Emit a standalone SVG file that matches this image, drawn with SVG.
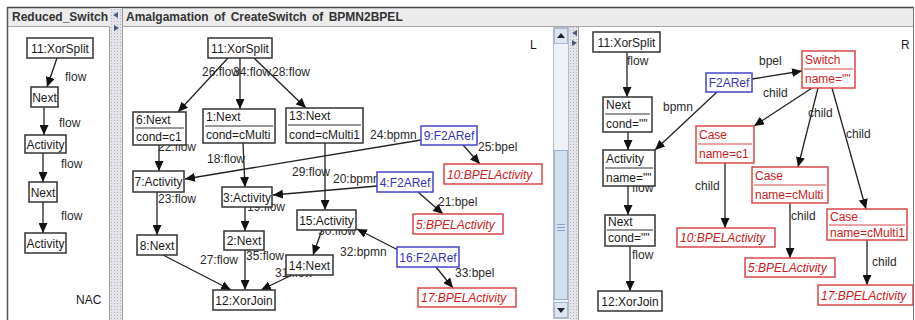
<svg xmlns="http://www.w3.org/2000/svg" width="915" height="320" viewBox="0 0 915 320">
<defs>
<style>
.hdr{font-family:"Liberation Sans",Arial,sans-serif;font-size:12px;font-weight:bold;fill:#333}
.t{font-family:"Liberation Sans",Arial,sans-serif;font-size:12px;fill:#1a1a1a}
.c{text-anchor:middle}
.lb{font-family:"Liberation Sans",Arial,sans-serif;font-size:12px;fill:#2a2a2a}
.k{fill:#fff;stroke:#333;stroke-width:1.5}
.b{fill:#fff;stroke:#4646c8;stroke-width:1.5}
.r{fill:#fff;stroke:#d84848;stroke-width:1.5}
.bt{fill:#3434b8}
.rt{fill:#cc2020;font-style:italic}
.rn{fill:#cc2020}
.sk{stroke:#333;stroke-width:1.2}
.sr{stroke:#d84848;stroke-width:1.2}
.e{stroke:#222;stroke-width:1.3;fill:none;marker-end:url(#ah)}
.sp{fill:url(#dots)}
.tri{fill:#4a5a78}
</style>
<marker id="ah" viewBox="0 0 10 9" refX="10" refY="4.5" markerWidth="10" markerHeight="9" markerUnits="userSpaceOnUse" orient="auto"><path d="M0,0L10,4.5L0,9z" fill="#111"/></marker>
<pattern id="dots" width="3" height="3" patternUnits="userSpaceOnUse"><rect width="3" height="3" fill="#e4e4ea"/><rect width="1" height="1" fill="#b0b0c2"/></pattern>
</defs>

<!-- window frame and panels -->
<g id="frame">
<rect x="0" y="0" width="915" height="320" fill="#fff"/>
<rect x="8" y="8" width="905" height="18" fill="#ececec"/>
<line x1="7" y1="7.5" x2="914" y2="7.5" stroke="#444" stroke-width="1.5"/>
<line x1="8" y1="26.5" x2="913" y2="26.5" stroke="#a8a8a8"/>
<line x1="7.5" y1="7" x2="7.5" y2="320" stroke="#555" stroke-width="1.5"/>
<line x1="913.5" y1="7" x2="913.5" y2="320" stroke="#777"/>
<rect x="110" y="8" width="12" height="312" class="sp"/>
<line x1="109.5" y1="27" x2="109.5" y2="320" stroke="#999"/>
<line x1="122.5" y1="8" x2="122.5" y2="320" stroke="#999"/>
<path d="M118,12L113,15L118,18z" class="tri"/>
<path d="M114,25L119,28L114,31z" class="tri"/>
<text x="12" y="21" class="hdr">Reduced_Switch</text>
<text x="126" y="21" class="hdr" word-spacing="2">Amalgamation of CreateSwitch of BPMN2BPEL</text>
<!-- scrollbar of the middle view -->
<rect x="553.5" y="27.5" width="15" height="291" fill="#eef2f8" stroke="#b4c0d0"/>
<rect x="554.5" y="28.5" width="13" height="15" fill="#dde6f0" stroke="#a8b8cc"/>
<path d="M557,38L561,33L565,38z" fill="#223"/>
<rect x="554.5" y="150.5" width="13" height="149" fill="#d2e0f0" stroke="#9cb0c8"/>
<line x1="557" y1="224.5" x2="565" y2="224.5" stroke="#8aa0bc"/>
<line x1="557" y1="227.5" x2="565" y2="227.5" stroke="#8aa0bc"/>
<line x1="557" y1="230.5" x2="565" y2="230.5" stroke="#8aa0bc"/>
<rect x="554.5" y="302.5" width="13" height="15" fill="#dde6f0" stroke="#a8b8cc"/>
<path d="M557,308L561,313L565,308z" fill="#223"/>
<rect x="569" y="27" width="9" height="293" class="sp"/>
<line x1="578.5" y1="27" x2="578.5" y2="320" stroke="#999"/>
<path d="M577,30L572,33L577,36z" class="tri"/>
<path d="M572,40L577,43L572,46z" class="tri"/>
<text x="76" y="304" class="t">NAC</text>
<text x="530" y="49" class="t">L</text>
<text x="901" y="49" class="t">R</text>
</g>

<!-- connectors -->
<g id="connectors">
<!-- NAC -->
<line x1="57" y1="58" x2="47" y2="87" class="e"/>
<line x1="44" y1="107" x2="44" y2="135" class="e"/>
<line x1="43" y1="153" x2="43" y2="182" class="e"/>
<line x1="43" y1="202" x2="43" y2="233" class="e"/>
<text x="65" y="81" class="lb">flow</text>
<text x="59" y="127" class="lb">flow</text>
<text x="61" y="168" class="lb">flow</text>
<text x="61" y="220" class="lb">flow</text>
<!-- L -->
<line x1="228" y1="58" x2="178" y2="112" class="e"/>
<line x1="240" y1="58" x2="240" y2="109" class="e"/>
<line x1="254" y1="58" x2="306" y2="108" class="e"/>
<text x="202" y="76" class="lb">26:flow</text>
<text x="233" y="76" class="lb">34:flow</text>
<text x="272" y="76" class="lb">28:flow</text>
<line x1="159" y1="145" x2="159" y2="171" class="e"/>
<text x="158" y="151" class="lb">22:flow</text>
<line x1="243" y1="143" x2="245" y2="187" class="e"/>
<text x="207" y="163" class="lb">18:flow</text>
<line x1="325" y1="143" x2="325" y2="210" class="e"/>
<text x="292" y="176" class="lb">29:flow</text>
<line x1="157" y1="192" x2="157" y2="235" class="e"/>
<text x="158" y="203" class="lb">23:flow</text>
<line x1="245" y1="207" x2="245" y2="231" class="e"/>
<text x="247" y="211" class="lb">19:flow</text>
<line x1="322" y1="230" x2="313" y2="255" class="e"/>
<text x="318" y="235" class="lb">30:flow</text>
<line x1="163" y1="255" x2="231" y2="290" class="e"/>
<text x="200" y="264" class="lb">27:flow</text>
<line x1="245" y1="250" x2="245" y2="290" class="e"/>
<text x="246" y="260" class="lb">35:flow</text>
<line x1="292" y1="275" x2="261" y2="290" class="e"/>
<text x="275" y="277" class="lb">31:flow</text>
<line x1="421" y1="140" x2="185" y2="179" class="e"/>
<text x="370" y="139" class="lb">24:bpmn</text>
<line x1="463" y1="145" x2="480" y2="164" class="e"/>
<text x="478" y="151" class="lb">25:bpel</text>
<line x1="377" y1="186" x2="273" y2="195" class="e"/>
<text x="333" y="183" class="lb">20:bpmn</text>
<line x1="418" y1="192" x2="443" y2="214" class="e"/>
<text x="438" y="206" class="lb">21:bpel</text>
<line x1="398" y1="250" x2="357" y2="229" class="e"/>
<text x="340" y="256" class="lb">32:bpmn</text>
<line x1="436" y1="267" x2="453" y2="288" class="e"/>
<text x="455" y="277" class="lb">33:bpel</text>
<!-- R -->
<line x1="627" y1="52" x2="627" y2="97" class="e"/>
<text x="627" y="65" class="lb">flow</text>
<line x1="628" y1="132" x2="628" y2="150" class="e"/>
<line x1="628" y1="186" x2="628" y2="215" class="e"/>
<text x="632" y="192" class="lb">flow</text>
<line x1="630" y1="246" x2="630" y2="291" class="e"/>
<text x="632" y="259" class="lb">flow</text>
<line x1="752" y1="79" x2="802" y2="71" class="e"/>
<text x="759" y="65" class="lb">bpel</text>
<line x1="717" y1="92" x2="655" y2="150" class="e"/>
<text x="663" y="111" class="lb">bpmn</text>
<line x1="812" y1="88" x2="754" y2="126" class="e"/>
<text x="763" y="97" class="lb">child</text>
<line x1="818" y1="88" x2="798" y2="167" class="e"/>
<text x="808" y="117" class="lb">child</text>
<line x1="832" y1="88" x2="866" y2="209" class="e"/>
<text x="846" y="138" class="lb">child</text>
<line x1="725" y1="163" x2="725" y2="228" class="e"/>
<text x="695" y="190" class="lb">child</text>
<line x1="790" y1="203" x2="790" y2="258" class="e"/>
<text x="791" y="220" class="lb">child</text>
<line x1="867" y1="240" x2="867" y2="285" class="e"/>
<text x="872" y="266" class="lb">child</text>
</g>

<!-- NAC nodes -->
<g id="nac-xorsplit"><rect x="27" y="38" width="66" height="20" class="k"/><text x="60" y="53" class="t c">11:XorSplit</text></g>
<g id="nac-next1"><rect x="31" y="87" width="27" height="20" class="k"/><text x="44.5" y="102" class="t c">Next</text></g>
<g id="nac-activity1"><rect x="25" y="135" width="41" height="18" class="k"/><text x="45.5" y="149" class="t c">Activity</text></g>
<g id="nac-next2"><rect x="29" y="182" width="28" height="20" class="k"/><text x="43" y="197" class="t c">Next</text></g>
<g id="nac-activity2"><rect x="25" y="233" width="41" height="20" class="k"/><text x="45.5" y="248" class="t c">Activity</text></g>

<!-- L nodes -->
<g id="l-11"><rect x="208" y="38" width="64" height="20" class="k"/><text x="240" y="53" class="t c">11:XorSplit</text></g>
<g id="l-6"><rect x="133" y="112" width="53" height="33" class="k"/><text x="136" y="124" class="t">6:Next</text><line x1="135" y1="128" x2="184" y2="128" class="sk"/><text x="136" y="141" class="t">cond=c1</text></g>
<g id="l-1"><rect x="203" y="109" width="72" height="34" class="k"/><text x="206" y="121" class="t">1:Next</text><line x1="205" y1="126" x2="273" y2="126" class="sk"/><text x="206" y="139" class="t">cond=cMulti</text></g>
<g id="l-13"><rect x="286" y="108" width="77" height="35" class="k"/><text x="289" y="120" class="t">13:Next</text><line x1="288" y1="125" x2="361" y2="125" class="sk"/><text x="289" y="139" class="t">cond=cMulti1</text></g>
<g id="l-7"><rect x="133" y="171" width="51" height="21" class="k"/><text x="158.5" y="186" class="t c">7:Activity</text></g>
<g id="l-3"><rect x="222" y="187" width="50" height="20" class="k"/><text x="247" y="202" class="t c">3:Activity</text></g>
<g id="l-15"><rect x="297" y="210" width="59" height="20" class="k"/><text x="326.5" y="225" class="t c">15:Activity</text></g>
<g id="l-8"><rect x="137" y="235" width="40" height="20" class="k"/><text x="157" y="250" class="t c">8:Next</text></g>
<g id="l-2"><rect x="224" y="231" width="40" height="19" class="k"/><text x="244" y="245" class="t c">2:Next</text></g>
<g id="l-14"><rect x="286" y="255" width="47" height="20" class="k"/><text x="309.5" y="270" class="t c">14:Next</text></g>
<g id="l-12"><rect x="213" y="290" width="62" height="20" class="k"/><text x="244" y="305" class="t c">12:XorJoin</text></g>
<g id="l-9"><rect x="421" y="126" width="56" height="19" class="b"/><text x="449" y="140" class="t c bt">9:F2ARef</text></g>
<g id="l-4"><rect x="377" y="172" width="56" height="20" class="b"/><text x="405" y="187" class="t c bt">4:F2ARef</text></g>
<g id="l-16"><rect x="397" y="247" width="62" height="20" class="b"/><text x="428" y="262" class="t c bt">16:F2ARef</text></g>
<g id="l-10"><rect x="444" y="164" width="98" height="20" class="r"/><text x="447" y="179" class="t rt">10:BPELActivity</text></g>
<g id="l-5"><rect x="413" y="214" width="90" height="20" class="r"/><text x="416" y="229" class="t rt">5:BPELActivity</text></g>
<g id="l-17"><rect x="418" y="288" width="98" height="19" class="r"/><text x="421" y="302" class="t rt">17:BPELActivity</text></g>

<!-- R nodes -->
<g id="r-11"><rect x="593" y="32" width="67" height="20" class="k"/><text x="626.5" y="47" class="t c">11:XorSplit</text></g>
<g id="r-next1"><rect x="603" y="97" width="49" height="35" class="k"/><text x="606" y="109" class="t">Next</text><line x1="605" y1="114" x2="650" y2="114" class="sk"/><text x="606" y="128" class="t">cond=""</text></g>
<g id="r-activity"><rect x="603" y="150" width="52" height="36" class="k"/><text x="606" y="163" class="t">Activity</text><line x1="605" y1="168" x2="653" y2="168" class="sk"/><text x="606" y="182" class="t">name=""</text></g>
<g id="r-next2"><rect x="605" y="215" width="50" height="31" class="k"/><text x="608" y="226" class="t">Next</text><line x1="607" y1="230" x2="653" y2="230" class="sk"/><text x="608" y="242" class="t">cond=""</text></g>
<g id="r-12"><rect x="598" y="291" width="64" height="20" class="k"/><text x="630" y="306" class="t c">12:XorJoin</text></g>
<g id="r-f2aref"><rect x="706" y="73" width="46" height="19" class="b"/><text x="729" y="87" class="t c bt">F2ARef</text></g>
<g id="r-switch"><rect x="802" y="51" width="53" height="37" class="r"/><text x="805" y="64" class="t rn">Switch</text><line x1="804" y1="69" x2="853" y2="69" class="sr"/><text x="805" y="83" class="t rn">name=""</text></g>
<g id="r-case1"><rect x="696" y="126" width="58" height="37" class="r"/><text x="699" y="139" class="t rn">Case</text><line x1="698" y1="144" x2="752" y2="144" class="sr"/><text x="699" y="158" class="t rn">name=c1</text></g>
<g id="r-case2"><rect x="752" y="167" width="76" height="36" class="r"/><text x="755" y="180" class="t rn">Case</text><line x1="754" y1="185" x2="826" y2="185" class="sr"/><text x="755" y="199" class="t rn">name=cMulti</text></g>
<g id="r-case3"><rect x="827" y="209" width="80" height="31" class="r"/><text x="830" y="221" class="t rn">Case</text><line x1="829" y1="225" x2="905" y2="225" class="sr"/><text x="830" y="237" class="t rn">name=cMulti1</text></g>
<g id="r-10"><rect x="677" y="228" width="98" height="19" class="r"/><text x="680" y="242" class="t rt">10:BPELActivity</text></g>
<g id="r-5"><rect x="745" y="258" width="90" height="19" class="r"/><text x="748" y="272" class="t rt">5:BPELActivity</text></g>
<g id="r-17"><rect x="818" y="285" width="95" height="20" class="r"/><text x="821" y="300" class="t rt">17:BPELActivity</text></g>
</svg>
